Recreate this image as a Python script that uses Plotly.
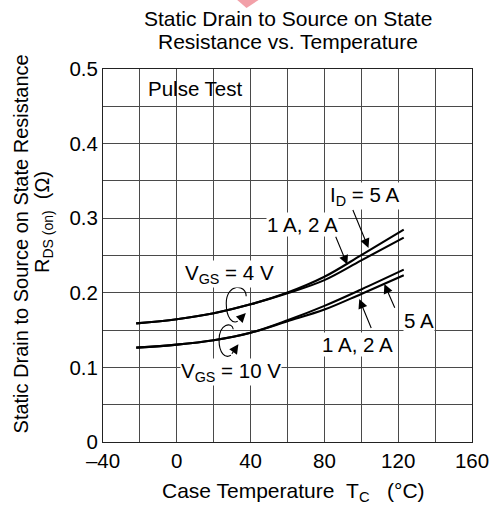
import plotly.graph_objects as go

# ---- data ----
temp_c = [-22, 0, 20, 40, 60, 80, 100, 123]
r_vgs4_id5 = [0.159, 0.1645, 0.1725, 0.1845, 0.2003, 0.2215, 0.2505, 0.2847]
r_vgs4_id12 = [0.159, 0.1645, 0.1725, 0.1845, 0.1993, 0.217, 0.2435, 0.274]
r_vgs10_id5 = [0.1265, 0.1305, 0.1365, 0.1465, 0.1632, 0.1825, 0.2045, 0.231]
r_vgs10_id12 = [0.1265, 0.1305, 0.1365, 0.1465, 0.1618, 0.1775, 0.1985, 0.2235]

x_ticks = [-40, 0, 40, 80, 120, 160]
x_tick_text = ["\u201340", "0", "40", "80", "120", "160"]
x_minor = [-20, 20, 60, 100, 140]
y_ticks = [0, 0.1, 0.2, 0.3, 0.4, 0.5]
y_tick_text = ["0", "0.1", "0.2", "0.3", "0.4", "0.5"]
y_minor = [0.05, 0.15, 0.25, 0.35, 0.45]

FONT = "Liberation Sans, Arial, Helvetica, sans-serif"
GRID = "#4a4a4a"

fig = go.Figure()
for ys in (r_vgs4_id5, r_vgs4_id12, r_vgs10_id5, r_vgs10_id12):
    fig.add_trace(go.Scatter(x=temp_c, y=ys, mode="lines",
                             line=dict(color="black", width=2.1, shape="spline", smoothing=1.0),
                             showlegend=False, hoverinfo="skip"))

fig.update_layout(
    width=501, height=512,
    margin=dict(l=103, r=20, t=69, b=70),
    paper_bgcolor="white", plot_bgcolor="white",
    font=dict(family=FONT, size=20.5, color="black"),
    showlegend=False,
)
fig.update_xaxes(range=[-40, 160], tickvals=x_ticks, ticktext=x_tick_text,
                 showgrid=True, gridcolor=GRID, gridwidth=1,
                 minor=dict(tickvals=x_minor, showgrid=True, gridcolor=GRID, gridwidth=1),
                 showline=True, linecolor="#222", linewidth=1, mirror=True,
                 zeroline=False, ticks="", tickfont=dict(size=20.5))
fig.update_yaxes(range=[0, 0.5], tickvals=y_ticks, ticktext=y_tick_text,
                 showgrid=True, gridcolor=GRID, gridwidth=1,
                 minor=dict(tickvals=y_minor, showgrid=True, gridcolor=GRID, gridwidth=1),
                 showline=True, linecolor="#222", linewidth=1, mirror=True,
                 zeroline=False, ticks="", tickfont=dict(size=20.5))

ann = []
# titles
ann.append(dict(text="Static Drain to Source on State", xref="paper", yref="paper", x=0.5, y=1.135,
                xanchor="center", yanchor="middle", showarrow=False, font=dict(size=21)))
ann.append(dict(text="Resistance vs. Temperature", xref="paper", yref="paper", x=0.5, y=1.0734,
                xanchor="center", yanchor="middle", showarrow=False, font=dict(size=21)))
ann.append(dict(text="Case Temperature\u00a0\u00a0T<sub>C</sub>\u00a0\u00a0\u00a0(°C)", xref="paper", yref="paper",
                x=0.516, y=-0.1345, xanchor="center", yanchor="middle", showarrow=False, font=dict(size=21)))
ann.append(dict(text="Static Drain to Source on State Resistance", xref="paper", yref="paper",
                x=-0.2196, y=0.5322, xanchor="center", yanchor="middle", textangle=-90,
                showarrow=False, font=dict(size=20)))
ann.append(dict(text="R<sub>DS (on)</sub>\u00a0\u00a0(\u03a9)", xref="paper", yref="paper",
                x=-0.1614, y=0.5908, xanchor="center", yanchor="middle", textangle=-90,
                showarrow=False, font=dict(size=20)))

# in-plot labels
def label(txt, x, y, bg=True):
    d = dict(text=txt, x=x, y=y, xref="x", yref="y", xanchor="center", yanchor="middle",
             showarrow=False, font=dict(size=20.5))
    if bg:
        d["bgcolor"] = "white"
        d["borderpad"] = 0
    return d

ann.append(label("Pulse Test", 10, 0.474, bg=False))
ann.append(label("V<sub>GS</sub> = 4 V", 28.8, 0.2248))
ann.append(label("V<sub>GS</sub> = 10 V", 29.3, 0.0935))
ann.append(label("I<sub>D</sub> = 5 A", 101.7, 0.3293))
ann.append(label("1 A, 2 A", 68.1, 0.2918))
ann.append(label("5 A", 131.5, 0.163))
ann.append(label("1 A, 2 A", 97.9, 0.1306))

def arrow(tx, ty, hx, hy):
    return dict(text="", x=hx, y=hy, ax=tx, ay=ty, xref="x", yref="y", axref="x", ayref="y",
                showarrow=True, arrowhead=2, arrowsize=1.7, arrowwidth=1.1, arrowcolor="black",
                standoff=0, startstandoff=0)

ann.append(arrow(95.1, 0.3129, 103.9, 0.2601))
ann.append(arrow(85.8, 0.2771, 92.4, 0.2378))
ann.append(arrow(118.5, 0.1779, 112.5, 0.2117))
ann.append(arrow(105.7, 0.1507, 98.9, 0.1916))
ann.append(arrow(33.02, 0.1618, 37.41, 0.1729))
ann.append(arrow(29.31, 0.1162, 33.39, 0.1310))

fig.update_layout(annotations=ann)

shapes = [
    dict(type="path", xref="x", yref="y",
         path="M 37.6,0.1953 C 37.6,0.2125 26.8,0.2125 26.8,0.1859 C 26.8,0.1650 30.37,0.1585 33.02,0.1618",
         line=dict(color="black", width=1.1)),
    dict(type="path", xref="x", yref="y",
         path="M 30.6,0.1511 C 30.0,0.1615 22.9,0.1590 22.9,0.1363 C 22.9,0.1195 26.14,0.1115 29.31,0.1162",
         line=dict(color="black", width=1.1)),
    dict(type="path", xref="paper", yref="paper",
         path="M 0.3624,1.1861 L 0.4233,1.1861 L 0.3889,1.1638 Z",
         fillcolor="#f2a0a8", line=dict(width=0), layer="above"),
]
fig.update_layout(shapes=shapes)

fig.write_html("out.html")
